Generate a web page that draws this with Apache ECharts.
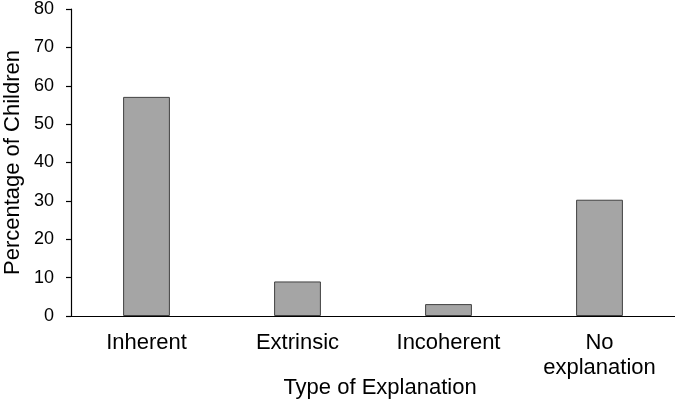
<!DOCTYPE html>
<html>
<head>
<meta charset="utf-8">
<script src="https://cdn.jsdelivr.net/npm/echarts@6/dist/echarts.min.js"></script>
<style>
html,body{margin:0;padding:0;background:#fff;}
#chart{width:675px;height:402px;}
</style>
</head>
<body>
<div id="chart"></div>
<script>
const categories = ['Inherent', 'Extrinsic', 'Incoherent', 'No\nexplanation'];
const percentages = [57.1, 9.0, 3.1, 30.3];
const yTicks = { min: 0, max: 80, interval: 10 };
const xTitle = 'Type of Explanation';
const yTitle = 'Percentage of Children';

const chart = echarts.init(document.getElementById('chart'), null, { renderer: 'canvas' });
const font = '"Liberation Sans", Arial, sans-serif';
chart.setOption({
  animation: false,
  backgroundColor: '#ffffff',
  grid: { left: 71, right: 0, top: 9, bottom: 86, containLabel: false, outerBoundsMode: 'none' },
  xAxis: {
    type: 'category',
    data: categories,
    name: xTitle,
    nameLocation: 'middle',
    nameGap: 61,
    nameMoveOverlap: false,
    nameTextStyle: { fontFamily: font, fontSize: 22, color: '#000', padding: [0, 0, 0, 14] },
    axisLine: { show: true, lineStyle: { color: '#000', width: 1.2 } },
    axisTick: { show: false },
    axisLabel: { fontFamily: font, fontSize: 22, color: '#000', margin: 14, lineHeight: 25, interval: 0 },
    splitLine: { show: false }
  },
  yAxis: {
    type: 'value',
    min: yTicks.min,
    max: yTicks.max,
    interval: yTicks.interval,
    name: yTitle,
    nameLocation: 'middle',
    nameGap: 47,
    nameMoveOverlap: false,
    nameTextStyle: { fontFamily: font, fontSize: 22, color: '#000' },
    axisLine: { show: true, lineStyle: { color: '#000', width: 1.2 } },
    axisTick: { show: true, inside: false, length: 5, lineStyle: { color: '#000', width: 1.2 } },
    axisLabel: { fontFamily: font, fontSize: 18, color: '#000', margin: 17 },
    splitLine: { show: false }
  },
  series: [{
    type: 'bar',
    data: percentages,
    barWidth: '31%',
    itemStyle: { color: '#a5a5a5', borderColor: '#404040', borderWidth: 1 }
  }]
});
</script>
</body>
</html>
